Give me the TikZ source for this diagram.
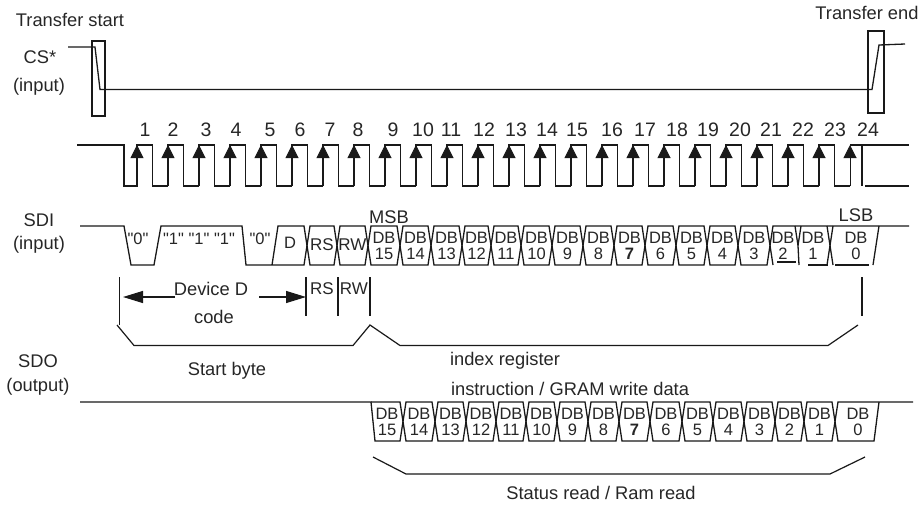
\documentclass[tikz,border=0pt]{standalone}
\usepackage{fontspec}
\setmainfont{Liberation Sans}
\newfontfamily\straightq{Liberation Sans}
\usetikzlibrary{arrows.meta}

\begin{document}
\begin{tikzpicture}[
x=1pt,y=-1pt,
sig/.style={
  draw=black!90,
  line width=1.3pt
},
mark line/.style={
  draw=black!90,
  line width=1.2pt
},
clk arrow/.style={
  draw=black!90,
  line width=1pt,
  -{Triangle[length=13pt,width=13pt]}
},
dim arrow/.style={
  draw=black!90,
  line width=1.2pt,
  -{Triangle[length=20pt,width=12pt]}
},
lab/.style={
  inner sep=0pt,
  text=black!85,
  font=\fontsize{18.3}{20}\selectfont
},
rw/.style={
  inner sep=0pt,
  text=black!85,
  font=\fontsize{17}{20}\selectfont
},
num/.style={
  inner sep=0pt,
  text=black!85,
  font=\fontsize{19.5}{20}\selectfont
},
cell/.style={
  inner sep=0pt,
  align=center,
  text=black!85,
  font=\fontsize{16.5}{16.5}\selectfont
}
]
\useasboundingbox (0,0) rectangle (921,507);

% CS
\node[lab] (start) at (70,20) {Transfer start};
\node[lab] (end) at (867,13) {Transfer end};
\node[lab] (cs) at (40,57) {CS*};
\node[lab] (csin) at (39,87) {(input)};
\draw[sig] (92,41) rectangle (105,116);
\draw[sig] (868,31) rectangle (884,113);
\draw[sig] (68,47) -- (95,47) -- (100,89.5) -- (872,89.5) -- (879,45) -- (905,44);

% clock
\foreach \n/\x in {1/145,2/173,3/206,4/236,5/270,6/300,7/330,8/358,9/393,10/423,11/451,12/484,
  13/516,14/547,15/577,16/612,17/645,18/677,19/708,20/740,21/771,22/803,23/835,24/868}
  \node[num] (clk\n) at (\x,130) {\n};
\draw[sig] (77,145) -- (124,145) -- (124,186) -- (138,186);
\foreach \n in {1,...,23}
  \draw[sig] ({137+31*(\n-1)},186) -- ({137+31*(\n-1)},145) -- ({152.5+31*(\n-1)},145)
    -- ({152.5+31*(\n-1)},186) -- ({168+31*(\n-1)},186);
\foreach \n in {1,...,24}
  \draw[clk arrow] ({137+31*(\n-1)},186) -- ({137+31*(\n-1)},145);
\draw[sig] (850,145) -- (909,145);
\draw[sig] (862,145) -- (862,186);
\draw[sig] (865,186) -- (909,186);

% SDI
\node[lab] (sdi) at (39,220) {SDI};
\node[lab] (sdiin) at (39,245) {(input)};
\node[lab] (msb) at (389,217) {MSB};
\node[lab] (lsb) at (856,215) {LSB};
\draw[sig] (80,226) -- (124,226) -- (131,265) -- (154,265) -- (161,226) -- (242,226)
  -- (246,265) -- (272,265) -- (278,226) -- (304,226) -- (307,245.5) -- (304,265) -- (272,265);
\node[cell] (zeroa) at (138,239) {\straightq "0"};
\node[cell] (ones) at (199,239) {\straightq "1" "1" "1"};
\node[cell] (zerob) at (260,239) {\straightq "0"};
\node[cell] (sdid) at (290,243) {D};
\foreach \lx/\rx/\txt in {307/337/RS,337/368/RW}{
  \draw[sig] (\lx,245.5) -- (\lx+3,226) -- (\rx-3,226) -- (\rx,245.5) -- (\rx-3,265) -- (\lx+3,265) -- cycle;
  \node[rw] (sdi\txt) at ({(\lx+\rx)/2},245) {\txt};
}
\foreach \lx/\rx/\txt [count=\i] in {368/400/15,400/431/14,431/462/13,462/491/12,491/521/11,521/552/10,
  552/583/9,583/614/8,614/645/{\textbf{7}},645/676/6,676/707/5,707/738/4,738/770/3}{
  \draw[sig] (\lx,245.5) -- (\lx+3,226) -- (\rx-3,226) -- (\rx,245.5) -- (\rx-3,265) -- (\lx+3,265) -- cycle;
  \node[cell] (sdidb\i) at ({(\lx+\rx)/2},246) {DB\\\txt};
}
% last bits of the SDI row have gaps
\draw[sig] (770,245.5) -- (773,226) -- (909,226);
\draw[sig] (770,245.5) -- (773,265);
\draw[sig] (777,262) -- (796,262);
\draw[sig] (795,226) -- (798,245.5) -- (799,265);
\draw[sig] (798,245.5) -- (801,226);
\draw[sig] (808,265) -- (828,265);
\draw[sig] (827,226) -- (830,245.5) -- (827,265);
\draw[sig] (830,245.5) -- (833,226);
\draw[sig] (830,245.5) -- (833,265);
\draw[sig] (835,265) -- (869,265);
\draw[sig] (879,226) -- (873,265);
\node[cell] (sdidb14) at (783,246) {DB\\2};
\node[cell] (sdidb15) at (813,246) {DB\\1};
\node[cell] (sdidb16) at (856,246) {DB\\0};

% start byte marks
\node[lab] (devd) at (211,289) {Device D};
\node[lab] (code) at (214,317) {code};
\node[rw] (marks) at (322,289) {RS};
\node[rw] (markw) at (354,289) {RW};
\node[lab] (sbyte) at (227,371) {Start byte};
\coordinate (devl) at (175,297);
\coordinate (devr) at (259,297);
\coordinate (tipl) at (123,297);
\coordinate (tipr) at (306,297);
\draw[dim arrow] (devl) -- (tipl);
\draw[dim arrow] (devr) -- (tipr);
\draw[mark line] (119.5,277) -- (119.5,325);
\foreach \x in {306,338,370,862}
  \draw[mark line] (\x,277) -- (\x,316);
\draw[mark line] (117,325) -- (134,345.5) -- (353,345.5) -- (370,325) -- (400,345.5) -- (828,345.5) -- (858,325);
\node[lab] (index) at (505,361) {index register};
\node[lab] (instr) at (570,389) {instruction / GRAM write data};

% SDO
\node[lab] (sdo) at (38,361) {SDO};
\node[lab] (sdoout) at (38,387) {(output)};
\draw[sig] (80,402) -- (371,402) -- (375,441) -- (400,441) -- (403,421.5);
\draw[sig] (371,402) -- (400,402) -- (403,421.5);
\node[cell] (sdodb1) at (387,422) {DB\\15};
\foreach \lx/\rx/\txt [count=\i from 2] in {403/435/14,435/466/13,466/496/12,496/526/11,526/557/10,
  557/588/9,588/619/8,619/650/{\textbf{7}},650/682/6,682/713/5,713/744/4,744/775/3,775/804/2,804/835/1}{
  \draw[sig] (\lx,421.5) -- (\lx+3,402) -- (\rx-3,402) -- (\rx,421.5) -- (\rx-3,441) -- (\lx+3,441) -- cycle;
  \node[cell] (sdodb\i) at ({(\lx+\rx)/2},422) {DB\\\txt};
}
\draw[sig] (835,421.5) -- (838,402) -- (913,402);
\draw[sig] (835,421.5) -- (838,441) -- (874,441) -- (879,402);
\node[cell] (sdodb16) at (858,422) {DB\\0};
\draw[mark line] (373,457) -- (406,474) -- (830,474) -- (865,457);
\node[lab] (status) at (601,493) {Status read / Ram read};
\end{tikzpicture}
\end{document}
